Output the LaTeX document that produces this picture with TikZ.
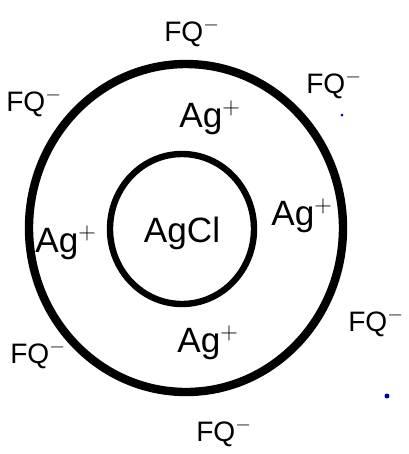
\documentclass[tikz,border=0pt]{standalone}
\usepackage{fontspec}
\setmainfont{Liberation Sans}
\usepackage{tikz}
\usetikzlibrary{positioning}

\begin{document}
\begin{tikzpicture}[
    x=0.25mm, y=-0.25mm,
    ring/.style={draw=black, line width=2.1mm},
    core/.style={draw=black, line width=1.6mm},
    ion/.style={font=\fontsize{25}{25}\selectfont, inner sep=0pt},
    anion/.style={font=\fontsize{20}{20}\selectfont, inner sep=0pt}
  ]
    \useasboundingbox (0,0) rectangle (409,454);

    % particle and its layer
    \draw[ring] (186,228) ellipse [x radius=157, y radius=164];
    \draw[core] (182,229) ellipse [x radius=72, y radius=75];

    \node[ion] (agcl) at (182,233) {AgCl};

    % adsorbed silver ions
    \node[ion] (agtop)   at (210,118) {Ag$^+$};
    \node[ion] (agleft)  at (66,243)  {Ag$^+$};
    \node[ion] (agright) at (302,216) {Ag$^+$};
    \node[ion] (agbot)   at (208,343) {Ag$^+$};

    % counter ions
    \node[anion] (fqtop)   at (192,33)  {FQ$^-$};
    \node[anion] (fqtr)    at (334,85)  {FQ$^-$};
    \node[anion] (fqleft)  at (34,103)  {FQ$^-$};
    \node[anion] (fqright) at (376,323) {FQ$^-$};
    \node[anion] (fqbl)    at (38,355)  {FQ$^-$};
    \node[anion] (fqbot)   at (224,433) {FQ$^-$};

    \fill[blue!70!black] (342,115) circle [radius=1.5];
    \fill[blue!70!black] (387,396) circle [radius=2.5];
  \end{tikzpicture}
\end{document}
